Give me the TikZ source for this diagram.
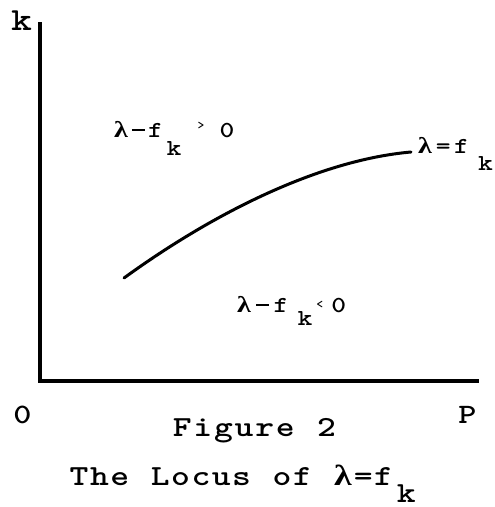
\documentclass[tikz,border=0pt]{standalone}
\usepackage{fontspec}
\usepackage{graphicx}
\newfontfamily\lamfont{Liberation Serif}
\newcommand{\lam}{{\lamfont λ}}
\newcommand{\mn}{\rule[5.5pt]{10pt}{2.6pt}}
\newcommand{\sx}[1]{\scalebox{1.28}[1.04]{#1}}
\makeatletter
\def\sp@end{\sp@end}
\newcommand\spc[2]{\def\sp@pitch{#1}\sp@loop#2\sp@end}
\def\sp@loop#1{\ifx#1\sp@end\else\makebox[\sp@pitch][c]{\sx{#1}}\expandafter\sp@loop\fi}
\makeatother
\begin{document}
\begin{tikzpicture}[x=1pt,y=-1pt,
  big/.style={inner sep=0pt,outer sep=0pt,font=\ttfamily\bfseries\fontsize{28}{32}\selectfont},
  axlab/.style={inner sep=0pt,outer sep=0pt,font=\ttfamily\bfseries\fontsize{27}{32}\selectfont},
  small/.style={inner sep=0pt,outer sep=0pt,font=\ttfamily\bfseries\fontsize{22}{26}\selectfont},
  axis/.style={line width=4pt,line cap=rect},
  locus/.style={line width=3pt,line cap=round}]
\useasboundingbox[fill=white] (0,0) rectangle (495,507);
\coordinate (top) at (39.5,24);
\coordinate (origin) at (39.5,381);
\coordinate (right) at (477,381);
\coordinate (cs) at (124,278);
\coordinate (ce) at (411,152);
\draw[axis] (top) -- (origin) -- (right);
\draw[locus] (cs) .. controls (215,212) and (320,160) .. (ce);
\node[axlab,anchor=base,font=\ttfamily\bfseries\fontsize{31}{34}\selectfont] (klab) at (21.5,30) {\sx{k}};
\node[axlab,anchor=base] (zero) at (22.5,423) {\sx{0}};
\node[axlab,anchor=base] (plab) at (467.5,423) {\sx{P}};
\node[small,anchor=base west] (pos) at (112.4,137)
  {\spc{17.25pt}{\lam\mn f}\makebox[19.8pt]{\raisebox{-18pt}{\sx{k}}}\hspace{17.1pt}\makebox[0pt]{\fontsize{13}{13}\selectfont\raisebox{8pt}{>}}\hspace{17.5pt}\makebox[17pt]{\sx{0}}};
\node[small,anchor=base west] (neg) at (234.75,312)
  {\spc{18.5pt}{\lam\mn f}\makebox[29.5pt]{\raisebox{-13pt}{\sx{k}}}\makebox[0pt]{\fontsize{13}{13}\selectfont\raisebox{4pt}{<}}\hspace{10pt}\makebox[18pt]{\sx{0}}};
\node[small,anchor=base west] (eq) at (415.9,153)
  {\spc{18.25pt}{\lam=f}\makebox[29.8pt]{\raisebox{-17pt}{\sx{k}}}};
\node[big,anchor=base west] (fig) at (172,436) {\spc{20.6pt}{Figure~2}};
\node[big,anchor=base west] (cap) at (69,485)
  {\spc{20.3pt}{The~Locus~of~\lam=f}\makebox[25pt]{\raisebox{-17pt}{\sx{k}}}};
\end{tikzpicture}
\end{document}
